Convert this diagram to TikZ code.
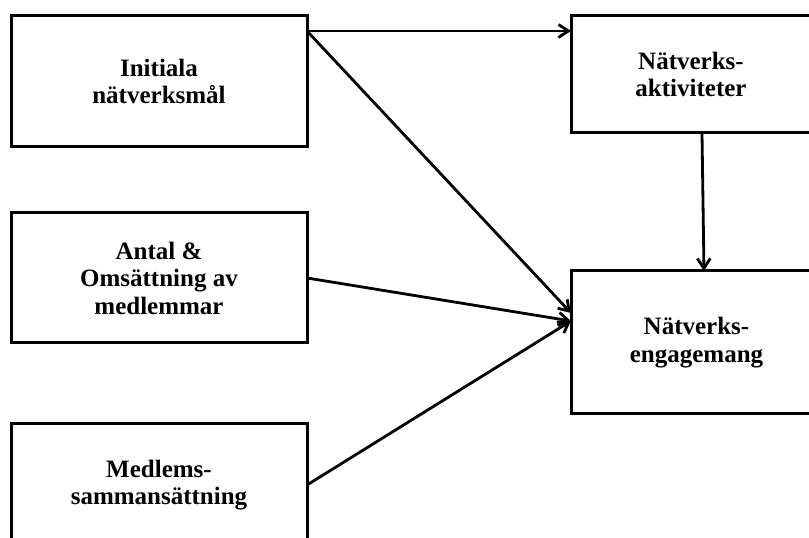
\documentclass[tikz,border=0pt]{standalone}
\usepackage{fontspec}
\setmainfont{Liberation Serif}
\usetikzlibrary{arrows.meta}
\tikzset{
  box/.style={draw, line width=3pt, rectangle, outer sep=0pt, inner sep=0pt,
    align=center, font=\fontsize{25}{27.5}\selectfont\bfseries},
  conn/.style={line width=2.8pt, -{Straight Barb[length=10pt,width=13pt,line width=2.8pt]}}
}
\begin{document}
\begin{tikzpicture}[x=1pt,y=1pt]
\useasboundingbox (0,0) rectangle (809,538);
\fill[white] (0,0) rectangle (809,538);
\clip (0,0) rectangle (809,538);
\node[box, minimum width=296pt, minimum height=131pt] (b1) at (159,456.5) {Initiala\\nätverksmål};
\node[box, minimum width=296pt, minimum height=130pt] (b2) at (159,260) {Antal \&\\Omsättning av\\medlemmar};
\node[box, minimum width=296pt, minimum height=122pt] (b3) at (159,53) {Medlems-\\sammansättning};
\node[box, minimum width=240pt, minimum height=117pt] (b4) at (691,463.5) {Nätverks-\\aktiviteter};
\node[box, minimum width=251pt, minimum height=143pt] (b5) at (696.5,195.5) {Nätverks-\\engagemang};
\coordinate (s) at ([yshift=-15pt]b1.north east);
\coordinate (t1) at ([yshift=29.5pt]b5.west);
\coordinate (t2) at ([yshift=21.5pt]b5.west);
\draw[conn] (s) -- (b4.west |- s);
\draw[conn] (s) -- (t1);
\draw[conn] (b2.east) -- (t2);
\draw[conn] (b3.east) -- (t2);
\draw[conn] ([xshift=11pt]b4.south) -- ([xshift=7.5pt]b5.north);
\end{tikzpicture}
\end{document}
